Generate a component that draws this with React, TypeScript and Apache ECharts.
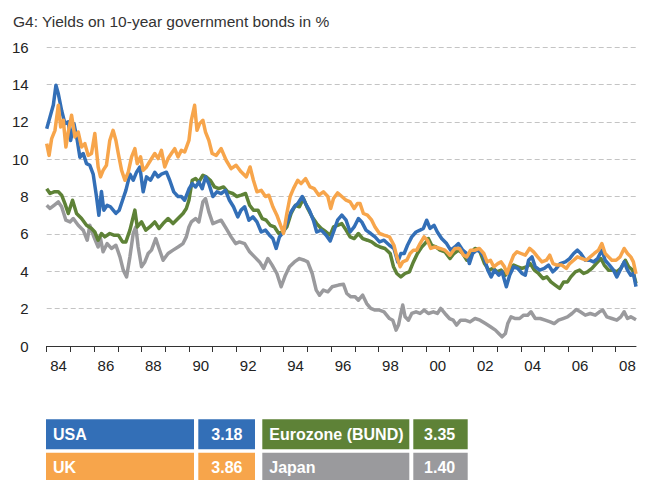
import React, { useEffect, useRef } from "react";
import * as echarts from "echarts";

const titleText = "G4: Yields on 10-year government bonds in %";
const yTicks = [0, 2, 4, 6, 8, 10, 12, 14, 16];
const yearTicks = [1984, 1985, 1986, 1987, 1988, 1989, 1990, 1991, 1992, 1993, 1994, 1995, 1996, 1997, 1998, 1999, 2000, 2001, 2002, 2003, 2004, 2005, 2006, 2007, 2008];
const yearLabels = ["84", "86", "88", "90", "92", "94", "96", "98", "00", "02", "04", "06", "08"];
const labelYears = [1984, 1986, 1988, 1990, 1992, 1994, 1996, 1998, 2000, 2002, 2004, 2006, 2008];

const legendNames = ["USA", "UK", "Eurozone (BUND)", "Japan"];
const legendValues = ["3.18", "3.86", "3.35", "1.40"];

const usaData: number[][] = [
  [1984.0,11.63],[1984.14,12.26],[1984.28,12.9],[1984.39,13.95],[1984.49,13.5],[1984.63,12.6],[1984.77,11.9],[1984.91,12.0],[1985.01,11.0],[1985.15,11.9],[1985.29,11.0],[1985.4,10.1],[1985.54,10.3],[1985.68,9.76],[1985.82,9.67],[1985.96,9.2],[1986.1,8.0],[1986.2,7.0],[1986.31,8.27],[1986.41,7.27],[1986.55,7.53],[1986.69,7.45],[1986.92,7.1],[1987.06,7.27],[1987.2,7.8],[1987.34,8.33],[1987.51,9.2],[1987.65,8.87],[1987.79,9.3],[1987.93,9.58],[1988.07,8.25],[1988.21,9.05],[1988.38,8.87],[1988.56,9.3],[1988.7,9.05],[1988.84,9.2],[1989.05,9.3],[1989.19,8.87],[1989.36,8.25],[1989.54,8.0],[1989.68,8.0],[1989.82,7.8],[1990.0,8.4],
  [1990.14,8.69],[1990.28,8.51],[1990.42,8.78],[1990.56,8.42],[1990.7,9.05],[1990.84,8.69],[1991.01,8.0],[1991.18,8.25],[1991.36,8.16],[1991.54,8.33],[1991.71,7.8],[1991.88,7.45],[1992.06,6.91],[1992.2,7.27],[1992.35,7.45],[1992.53,6.73],[1992.7,6.91],[1992.87,6.64],[1993.05,6.1],[1993.23,6.2],[1993.4,5.93],[1993.54,5.75],[1993.68,5.22],[1993.82,5.84],[1993.99,6.1],[1994.17,6.73],[1994.31,7.18],[1994.45,7.45],[1994.59,7.62],[1994.78,8.0],[1994.92,7.62],[1995.08,7.27],[1995.25,6.73],[1995.39,6.1],[1995.58,6.2],[1995.79,5.93],[1995.96,5.62],
  [1996.1,6.1],[1996.27,6.73],[1996.45,7.0],[1996.63,6.73],[1996.8,6.1],[1996.97,6.37],[1997.15,6.82],[1997.29,6.64],[1997.47,6.2],[1997.67,6.02],[1997.85,5.84],[1998.04,5.57],[1998.23,5.66],[1998.46,5.39],[1998.65,5.22],[1998.81,4.5],[1998.94,4.95],[1999.08,4.95],[1999.22,5.39],[1999.4,5.84],[1999.58,6.1],[1999.75,6.2],[1999.89,6.29],[2000.03,6.73],[2000.17,6.29],[2000.34,6.46],[2000.48,6.1],[2000.66,5.75],[2000.87,5.48],[2001.04,5.13],[2001.22,5.3],[2001.37,5.48],[2001.55,5.13],[2001.72,4.95],[2001.83,4.41],[2001.97,4.95],[2002.14,5.13],[2002.31,5.04],
  [2002.44,4.77],[2002.61,4.06],[2002.75,3.7],[2002.89,4.06],[2003.07,3.79],[2003.21,3.97],[2003.39,3.17],[2003.53,3.79],[2003.7,4.24],[2003.87,4.15],[2004.05,3.88],[2004.19,3.79],[2004.33,4.59],[2004.47,4.77],[2004.61,4.24],[2004.8,4.06],[2004.99,4.15],[2005.17,4.33],[2005.35,3.97],[2005.5,4.15],[2005.66,4.41],[2005.88,4.5],[2006.06,4.68],[2006.23,4.95],[2006.39,5.13],[2006.53,4.95],[2006.72,4.59],[2006.9,4.59],[2007.07,4.5],[2007.24,4.68],[2007.42,5.13],[2007.56,4.59],[2007.74,4.33],[2007.91,4.06],[2008.05,3.7],[2008.19,4.06],[2008.36,4.5],[2008.5,4.06],[2008.64,3.79],[2008.75,3.88],[2008.86,3.18]
];

const ukData: number[][] = [
  [1984.0,10.83],[1984.1,10.2],[1984.21,11.1],[1984.35,11.54],[1984.49,12.88],[1984.59,11.72],[1984.7,12.08],[1984.81,10.65],[1984.91,11.45],[1985.05,12.35],[1985.19,11.19],[1985.33,11.45],[1985.47,10.65],[1985.61,10.83],[1985.75,10.2],[1985.89,10.3],[1986.03,11.37],[1986.17,9.58],[1986.27,9.05],[1986.38,9.4],[1986.52,9.67],[1986.66,11.0],[1986.8,11.54],[1986.92,11.0],[1987.02,10.3],[1987.16,9.4],[1987.3,8.87],[1987.44,9.3],[1987.58,10.12],[1987.72,10.56],[1987.82,9.76],[1987.96,10.12],[1988.07,9.4],[1988.21,9.58],[1988.38,9.94],[1988.56,10.3],[1988.7,10.03],[1988.84,10.47],[1988.98,9.58],[1989.12,10.03],[1989.26,10.3],[1989.4,10.56],[1989.54,10.12],[1989.68,10.47],[1989.82,10.38],[1990.0,11.0],
  [1990.1,12.08],[1990.24,12.88],[1990.34,11.54],[1990.45,11.9],[1990.59,12.08],[1990.7,11.45],[1990.84,11.0],[1990.98,10.3],[1991.15,10.2],[1991.36,10.56],[1991.57,9.94],[1991.78,9.49],[1991.99,9.67],[1992.2,9.32],[1992.42,9.05],[1992.58,9.58],[1992.72,8.87],[1992.87,8.25],[1993.05,8.33],[1993.23,8.0],[1993.37,8.07],[1993.54,7.45],[1993.71,7.0],[1993.89,6.37],[1993.99,6.02],[1994.13,7.09],[1994.27,8.0],[1994.41,8.42],[1994.59,8.87],[1994.73,8.69],[1994.92,8.96],[1995.11,8.51],[1995.29,8.42],[1995.48,8.07],[1995.67,8.25],[1995.86,8.0],[1995.98,7.36],
  [1996.1,7.89],[1996.27,8.19],[1996.45,8.0],[1996.63,7.8],[1996.8,7.71],[1996.97,7.36],[1997.11,7.62],[1997.22,7.62],[1997.36,7.09],[1997.53,7.0],[1997.71,6.73],[1997.85,6.37],[1998.04,6.02],[1998.23,5.93],[1998.46,5.84],[1998.65,5.39],[1998.77,4.77],[1998.91,4.24],[1999.02,4.5],[1999.19,4.59],[1999.33,4.95],[1999.47,5.13],[1999.61,5.13],[1999.75,5.48],[1999.92,5.84],[2000.06,5.66],[2000.2,5.22],[2000.38,5.3],[2000.59,5.22],[2000.8,5.13],[2001.01,4.86],[2001.22,5.22],[2001.41,5.22],[2001.58,4.86],[2001.72,4.77],[2001.88,5.13],[2002.07,5.13],[2002.25,5.22],
  [2002.44,4.95],[2002.58,4.5],[2002.72,4.59],[2002.86,4.24],[2003.03,4.41],[2003.17,4.5],[2003.31,4.24],[2003.42,3.88],[2003.56,4.41],[2003.7,4.86],[2003.84,5.04],[2004.01,4.95],[2004.19,4.86],[2004.37,5.22],[2004.54,5.04],[2004.71,4.77],[2004.89,4.5],[2005.08,4.59],[2005.22,4.86],[2005.36,4.41],[2005.52,4.33],[2005.73,4.33],[2005.92,4.15],[2006.06,4.41],[2006.23,4.59],[2006.39,4.77],[2006.58,4.68],[2006.76,4.59],[2006.93,4.77],[2007.1,4.95],[2007.28,5.13],[2007.42,5.48],[2007.56,4.95],[2007.7,4.77],[2007.84,4.59],[2008.02,4.59],[2008.19,4.77],[2008.36,5.22],[2008.5,4.95],[2008.64,4.77],[2008.75,4.5],[2008.86,3.86]
];

const euroData: number[][] = [
  [1984.0,8.42],[1984.14,8.16],[1984.31,8.25],[1984.49,8.25],[1984.63,8.07],[1984.77,7.62],[1984.91,7.09],[1985.09,7.8],[1985.26,7.09],[1985.47,6.82],[1985.68,6.46],[1985.89,6.29],[1986.03,6.1],[1986.17,5.66],[1986.31,6.02],[1986.45,5.84],[1986.66,6.02],[1986.83,5.93],[1987.02,5.93],[1987.2,5.57],[1987.34,5.57],[1987.51,6.2],[1987.72,7.27],[1987.82,6.37],[1988.0,6.64],[1988.18,6.2],[1988.35,6.37],[1988.56,6.64],[1988.74,6.29],[1988.91,6.55],[1989.12,6.82],[1989.33,6.55],[1989.54,6.82],[1989.75,7.09],[1989.89,7.36],[1990.0,7.8],
  [1990.14,8.87],[1990.28,8.96],[1990.42,8.78],[1990.59,9.14],[1990.73,9.05],[1990.9,8.87],[1991.08,8.51],[1991.26,8.42],[1991.46,8.51],[1991.64,8.25],[1991.85,8.16],[1992.02,8.0],[1992.2,8.07],[1992.39,8.16],[1992.56,7.53],[1992.72,7.27],[1992.91,7.27],[1993.09,6.82],[1993.26,6.73],[1993.43,6.46],[1993.61,6.37],[1993.79,6.02],[1993.96,6.1],[1994.13,6.37],[1994.31,7.09],[1994.49,7.53],[1994.66,7.45],[1994.83,7.89],[1995.01,7.36],[1995.2,6.91],[1995.39,6.55],[1995.58,6.29],[1995.79,6.1],[1995.96,5.93],
  [1996.1,6.37],[1996.27,6.46],[1996.45,6.55],[1996.63,6.2],[1996.8,5.84],[1996.97,5.75],[1997.15,6.02],[1997.33,5.75],[1997.53,5.66],[1997.71,5.57],[1997.9,5.39],[1998.06,5.3],[1998.27,5.22],[1998.49,4.95],[1998.63,4.24],[1998.77,3.88],[1998.94,3.7],[1999.12,3.88],[1999.3,3.97],[1999.47,4.5],[1999.64,4.95],[1999.82,5.3],[1999.96,5.48],[2000.1,5.75],[2000.24,5.39],[2000.42,5.3],[2000.59,5.13],[2000.8,5.04],[2001.01,4.68],[2001.18,4.95],[2001.37,5.13],[2001.55,4.95],[2001.72,4.59],[2001.88,4.95],[2002.07,5.22],[2002.25,5.13],
  [2002.47,4.41],[2002.65,4.06],[2002.83,4.15],[2003.0,3.97],[2003.17,4.06],[2003.35,3.79],[2003.53,4.06],[2003.7,4.33],[2003.87,4.24],[2004.05,4.15],[2004.26,4.24],[2004.4,4.41],[2004.57,4.06],[2004.75,3.88],[2004.94,3.61],[2005.1,3.7],[2005.27,3.43],[2005.45,3.26],[2005.64,3.08],[2005.81,3.43],[2005.97,3.43],[2006.11,3.7],[2006.3,3.97],[2006.48,4.06],[2006.65,3.88],[2006.81,3.97],[2007.0,4.15],[2007.18,4.41],[2007.38,4.68],[2007.52,4.33],[2007.7,4.06],[2007.88,4.06],[2008.05,3.97],[2008.22,4.15],[2008.41,4.59],[2008.55,4.24],[2008.72,4.06],[2008.86,3.35]
];

const japanData: number[][] = [
  [1984.0,7.53],[1984.14,7.36],[1984.31,7.53],[1984.49,7.71],[1984.63,7.45],[1984.81,6.73],[1984.98,6.64],[1985.12,6.82],[1985.33,6.46],[1985.54,6.2],[1985.71,5.66],[1985.82,6.46],[1985.99,5.84],[1986.17,5.3],[1986.27,5.75],[1986.38,5.04],[1986.55,5.48],[1986.73,5.22],[1986.92,5.39],[1987.09,4.77],[1987.23,4.06],[1987.37,3.7],[1987.51,4.77],[1987.65,6.02],[1987.76,6.37],[1987.86,5.3],[1988.0,4.24],[1988.14,4.5],[1988.28,4.95],[1988.42,5.13],[1988.6,5.75],[1988.74,5.22],[1988.91,4.59],[1989.12,4.95],[1989.33,5.13],[1989.54,5.3],[1989.75,5.48],[1989.89,5.84],[1990.0,6.37],
  [1990.1,6.64],[1990.28,6.82],[1990.42,6.64],[1990.59,7.71],[1990.7,7.89],[1990.84,7.18],[1991.01,6.55],[1991.18,6.64],[1991.36,6.73],[1991.57,6.29],[1991.78,5.84],[1991.97,5.48],[1992.13,5.57],[1992.35,5.48],[1992.56,5.04],[1992.77,4.77],[1992.98,4.5],[1993.15,4.15],[1993.33,4.68],[1993.51,4.33],[1993.71,3.88],[1993.89,3.17],[1994.07,3.79],[1994.24,4.24],[1994.45,4.5],[1994.66,4.68],[1994.87,4.59],[1995.01,4.5],[1995.2,3.88],[1995.37,2.99],[1995.51,2.72],[1995.67,2.99],[1995.86,2.9],[1996.04,3.17],
  [1996.31,3.26],[1996.52,3.3],[1996.66,2.81],[1996.83,2.63],[1997.01,2.63],[1997.15,2.45],[1997.33,2.72],[1997.5,2.27],[1997.67,2.01],[1997.85,1.92],[1998.04,1.92],[1998.23,1.83],[1998.46,1.47],[1998.6,1.38],[1998.74,0.85],[1998.84,1.12],[1998.94,1.74],[1999.02,2.19],[1999.12,1.56],[1999.26,1.38],[1999.4,1.74],[1999.58,1.83],[1999.75,1.74],[1999.92,1.92],[2000.1,1.74],[2000.31,1.83],[2000.48,1.74],[2000.62,2.01],[2000.8,1.74],[2000.99,1.47],[2001.15,1.38],[2001.29,1.12],[2001.46,1.38],[2001.65,1.38],[2001.86,1.29],[2002.07,1.47],[2002.28,1.38],
  [2002.51,1.2],[2002.72,1.03],[2002.93,0.85],[2003.07,0.67],[2003.21,0.49],[2003.35,0.67],[2003.45,1.2],[2003.59,1.56],[2003.77,1.47],[2003.95,1.47],[2004.12,1.65],[2004.29,1.65],[2004.43,1.83],[2004.61,1.47],[2004.82,1.47],[2005.03,1.38],[2005.24,1.29],[2005.41,1.2],[2005.59,1.38],[2005.78,1.47],[2005.97,1.56],[2006.16,1.74],[2006.34,1.95],[2006.51,1.83],[2006.72,1.65],[2006.93,1.74],[2007.14,1.65],[2007.32,1.83],[2007.46,1.92],[2007.63,1.56],[2007.84,1.47],[2008.05,1.38],[2008.22,1.56],[2008.36,1.83],[2008.5,1.47],[2008.64,1.56],[2008.86,1.4]
];

const FONT = "'Liberation Sans', Arial, sans-serif";
const C_USA = "#336fb7";
const C_UK = "#f7a54b";
const C_EU = "#5e8237";
const C_JP = "#9a9a9d";

export default function App() {
  const ref = useRef<HTMLDivElement>(null);
  useEffect(() => {
    if (!ref.current) return;
    const chart = echarts.init(ref.current, undefined, { renderer: "svg" });

    const legendColors = [C_USA, C_UK, C_EU, C_JP];
    const rows = [{ y: 419.3, h: 30 }, { y: 452.7, h: 30 }];
    const cols = [
      { nameX: 46, nameW: 148, valX: 198.3, valW: 56.7 },
      { nameX: 262.3, nameW: 147, valX: 413.3, valW: 54.4 },
    ];
    const order = [[0, 2], [1, 3]];
    const graphics: any[] = [
      {
        type: "text",
        left: 13,
        top: 13,
        style: { text: titleText, fill: "#333", font: `15.5px ${FONT}` },
      },
    ];
    order.forEach((pair, r) => {
      pair.forEach((idx, c) => {
        const col = cols[c];
        const row = rows[r];
        const cy = row.y + 15;
        graphics.push({ type: "rect", shape: { x: col.nameX, y: row.y, width: col.nameW, height: row.h }, style: { fill: legendColors[idx] } });
        graphics.push({ type: "rect", shape: { x: col.valX, y: row.y, width: col.valW, height: row.h }, style: { fill: legendColors[idx] } });
        graphics.push({ type: "text", x: col.nameX + 7, y: cy, style: { text: legendNames[idx], fill: "#fff", font: `bold 16px ${FONT}`, textAlign: "left", textVerticalAlign: "middle" } });
        graphics.push({ type: "text", x: col.valX + col.valW - 12.5, y: cy, style: { text: legendValues[idx], fill: "#fff", font: `bold 16px ${FONT}`, textAlign: "right", textVerticalAlign: "middle" } });
      });
    });

    const mkSeries = (name: string, data: number[][], color: string) => ({
      name,
      type: "line",
      data,
      showSymbol: false,
      symbol: "none",
      lineStyle: { color, width: 3.5, join: "round" },
      itemStyle: { color },
      emphasis: { disabled: true },
    });

    chart.setOption({
      animation: false,
      textStyle: { fontFamily: FONT },
      grid: { left: 46.7, right: 11, top: 47, bottom: 134, containLabel: false },
      xAxis: {
        type: "value",
        min: 1984,
        max: 2008.86,
        interval: 1,
        axisLine: { show: true, lineStyle: { color: "#333", width: 1 } },
        axisTick: { show: true, length: 6, lineStyle: { color: "#333" }, customValues: yearTicks },
        axisLabel: {
          customValues: labelYears.map((y) => y + 0.5),
          formatter: (v: number) => yearLabels[labelYears.indexOf(Math.round(v - 0.5))] ?? "",
          fontSize: 15,
          color: "#222",
          margin: 12,
          fontFamily: FONT,
        },
        splitLine: { show: false },
      },
      yAxis: {
        type: "value",
        min: yTicks[0],
        max: yTicks[yTicks.length - 1],
        interval: 2,
        axisLine: { show: false },
        axisTick: { show: false },
        axisLabel: { fontSize: 15, color: "#222", margin: 18, fontFamily: FONT },
        splitLine: { show: true, lineStyle: { color: "#c4c4c4", width: 1, type: [5, 3] } },
      },
      series: [
        mkSeries("Japan", japanData, C_JP),
        mkSeries("Eurozone (BUND)", euroData, C_EU),
        mkSeries("USA", usaData, C_USA),
        mkSeries("UK", ukData, C_UK),
      ],
      graphic: graphics,
    });
    return () => chart.dispose();
  }, []);
  return <div ref={ref} style={{ position: "absolute", left: 0, top: 0, width: 647, height: 480, background: "#fff" }} />;
}
